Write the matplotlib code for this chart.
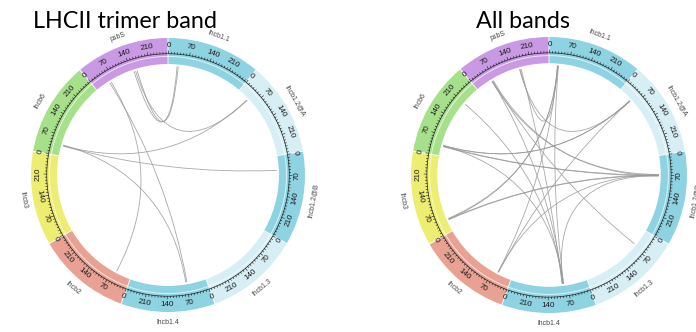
import numpy as np
import matplotlib.pyplot as plt
from matplotlib.patches import Wedge, PathPatch
from matplotlib.path import Path

# segments of the circos plot, clockwise from psbS
segments = ['psbS', 'lhcb1.1', 'lhcb1.2@A', 'lhcb1.2@B', 'lhcb1.3', 'lhcb1.4', 'lhcb2', 'lhcb3', 'lhcb6']
seg_len = [275, 275, 275, 275, 275, 275, 275, 275, 275]
seg_colors = ['#c99ae3', '#8dd3e2', '#d6eef4', '#8dd3e2', '#d6eef4', '#8dd3e2', '#e9a193', '#eded72', '#a7e08b']
tick_values = [0, 70, 140, 210]

# cross-links, LHCII trimer band
left_a_seg = ['psbS', 'psbS', 'psbS', 'psbS', 'psbS', 'lhcb6', 'lhcb6', 'lhcb6']
left_a_pos = [52, 58, 150, 162, 156, 38, 36, 40]
left_b_seg = ['lhcb1.4', 'lhcb2', 'lhcb1.1', 'lhcb1.1', 'lhcb1.2@A', 'lhcb1.2@A', 'lhcb1.2@B', 'lhcb1.4']
left_b_pos = [68, 55, 32, 36, 45, 43, 51, 72]

# cross-links, all bands
right_a_seg = ['lhcb6', 'lhcb6', 'lhcb6', 'lhcb6', 'lhcb6', 'psbS', 'psbS', 'psbS', 'psbS', 'psbS', 'psbS',
               'lhcb1.1', 'lhcb1.1', 'lhcb1.1', 'lhcb1.1', 'lhcb1.2@A', 'lhcb1.2@A', 'lhcb3', 'lhcb3', 'lhcb2',
               'lhcb1.2@B', 'psbS']
right_a_pos = [35, 33, 37, 36, 208, 60, 62, 64, 58, 170, 174,
               31, 29, 33, 30, 51, 50, 42, 40, 52,
               70, 168]
right_b_seg = ['lhcb1.2@B', 'lhcb1.2@B', 'lhcb1.2@A', 'lhcb1.4', 'lhcb1.4', 'lhcb1.4', 'lhcb1.3', 'lhcb1.2@B',
               'lhcb1.2@B', 'lhcb1.1', 'lhcb1.4', 'lhcb3', 'lhcb2', 'lhcb1.4', 'lhcb3', 'lhcb2', 'lhcb6',
               'lhcb1.2@B', 'lhcb1.2@B', 'lhcb1.2@B', 'lhcb1.4', 'lhcb1.2@A']
right_b_pos = [69, 72, 50, 85, 88, 86, 60, 70,
               66, 31, 90, 42, 52, 84, 45, 50, 38,
               68, 71, 67, 87, 52]

W, H = 696, 332
fig = plt.figure(figsize=(W / 100, H / 100), dpi=100)

START = 130.0
GAP = 0.4
DPU = (360 - GAP * len(segments)) / sum(seg_len)
seg_start = {}
a = START - GAP / 2
for name, n in zip(segments, seg_len):
    seg_start[name] = a
    a -= n * DPU + GAP


def ang(seg, pos):
    return seg_start[seg] - pos * DPU


def rot(theta):
    t = theta % 360
    if 0 < t < 180:
        return t - 90
    return t + 90


def xy(r, theta):
    th = np.radians(theta)
    return r * np.cos(th), r * np.sin(th)


def circos(cx, cy, R, a_seg, a_pos, b_seg, b_pos):
    lim = 1.25
    ax = fig.add_axes([(cx - lim * R) / W, (H - cy - lim * R) / H, 2 * lim * R / W, 2 * lim * R / H])
    ax.set_xlim(-lim, lim)
    ax.set_ylim(-lim, lim)
    ax.axis('off')

    r_in, r_out, r_sep, r_axis = 0.81, 1.0, 0.865, 0.885
    for name, n, col in zip(segments, seg_len, seg_colors):
        a0 = ang(name, 0)
        a1 = ang(name, n)
        ax.add_patch(Wedge((0, 0), r_out, a1, a0, width=r_out - r_in, facecolor=col, edgecolor='none'))
        th = np.linspace(a0, a1, 60)
        x, y = xy(r_sep, th)
        ax.plot(x, y, color='white', lw=0.7, alpha=0.7)
        x, y = xy(r_axis, th)
        ax.plot(x, y, color='#222222', lw=0.5)
        for p in range(0, n + 1, 10):
            t = ang(name, p)
            big = p in tick_values
            x, y = xy(np.array([r_axis, r_axis + (0.02 if big else 0.011)]), t)
            ax.plot(x, y, color='#222222', lw=0.45)
        for v in tick_values:
            t = ang(name, v)
            x, y = xy(0.945, t)
            ax.text(x, y, str(v), rotation=rot(t), rotation_mode='anchor', ha='center', va='center',
                    fontsize=5.8, color='#1a1a1a', family='Liberation Sans')
        t = ang(name, n / 2)
        x, y = xy(1.075, t)
        ax.text(x, y, name, rotation=rot(t), rotation_mode='anchor', ha='center', va='center',
                fontsize=5.0, color='#444444', family='Liberation Sans')

    for s1, p1, s2, p2 in zip(a_seg, a_pos, b_seg, b_pos):
        P0 = xy(r_in - 0.015, ang(s1, p1))
        P2 = xy(r_in - 0.015, ang(s2, p2))
        path = Path([P0, (0, 0), P2], [Path.MOVETO, Path.CURVE3, Path.CURVE3])
        ax.add_patch(PathPatch(path, facecolor='none', edgecolor='#999999', lw=0.6, alpha=0.85))
    return ax


circos(168, 175, 137, left_a_seg, left_a_pos, left_b_seg, left_b_pos)
circos(549, 175, 138, right_a_seg, right_a_pos, right_b_seg, right_b_pos)

fig.text(33 / W, 1 - 22 / H, 'LHCII trimer band', ha='left', va='center', fontsize=16.8, family='Lato', color='black')
fig.text(523 / W, 1 - 22 / H, 'All bands', ha='center', va='center', fontsize=16.8, family='Lato', color='black')

fig.savefig('out.png', dpi=100)
